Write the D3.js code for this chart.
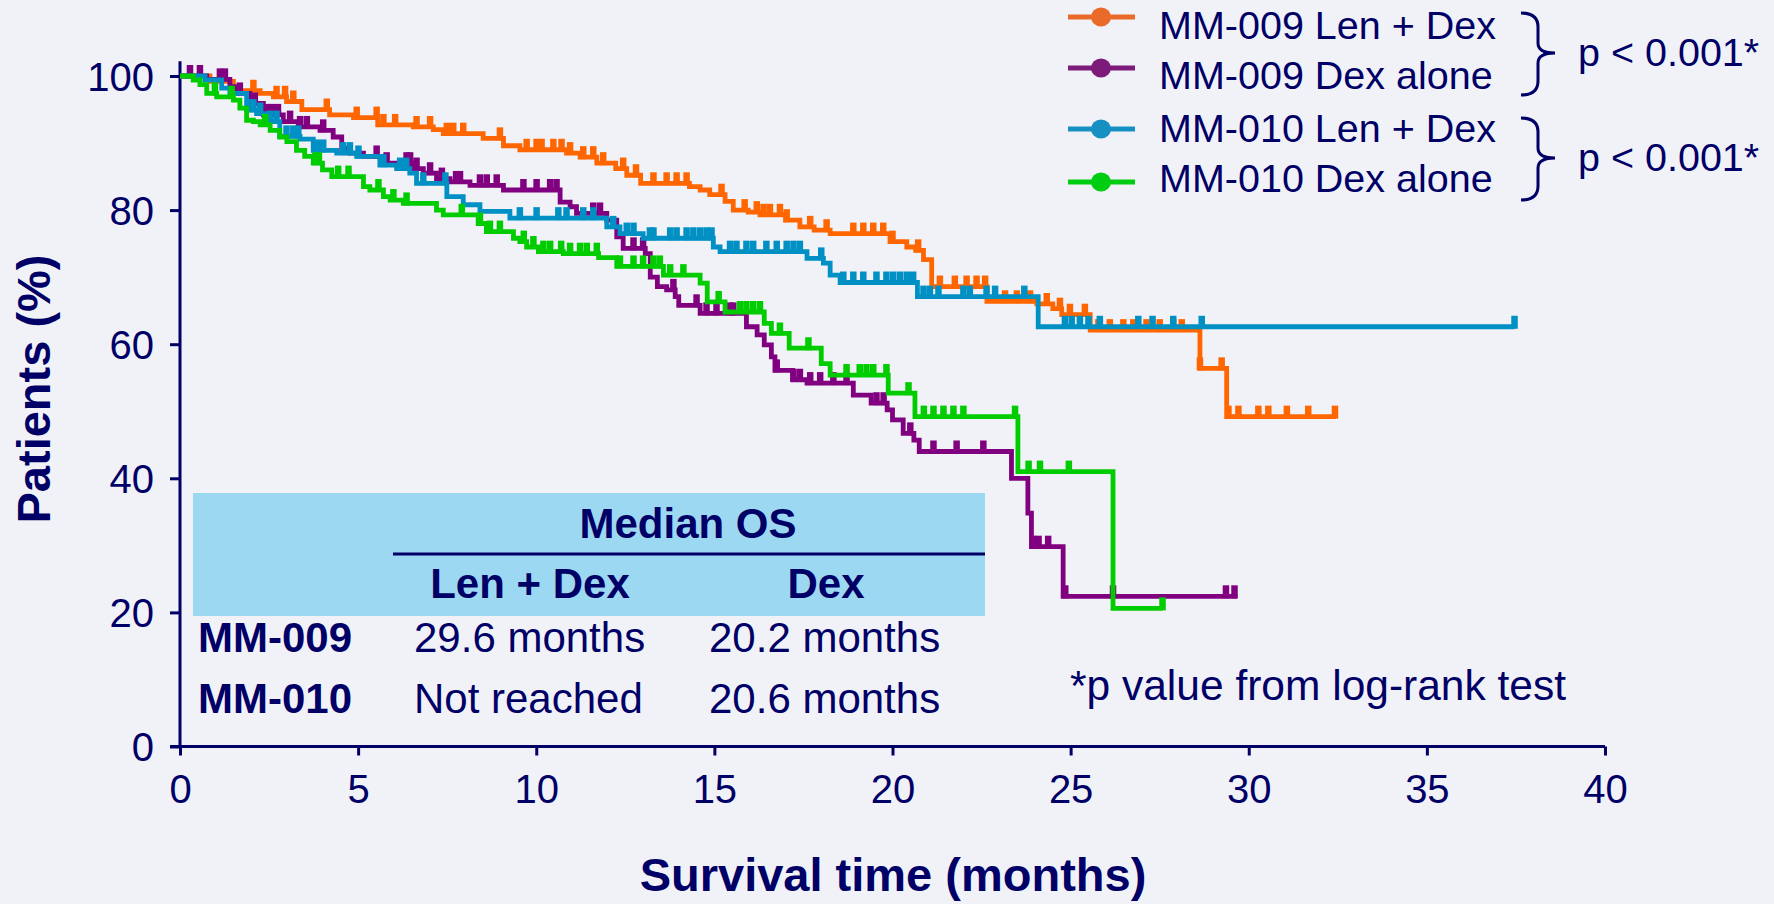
<!DOCTYPE html>
<html>
<head>
<meta charset="utf-8">
<script src="https://cdn.jsdelivr.net/npm/d3@7"></script>
<style>
  body { margin: 0; background: #f1f2f8; }
  svg { display: block; font-family: "Liberation Sans", Arial, sans-serif; }
</style>
</head>
<body>
<div id="chart"></div>
<script>
// Series labels and colours
const seriesNames = ["MM-009 Len + Dex", "MM-009 Dex alone", "MM-010 Len + Dex", "MM-010 Dex alone"];
const seriesColors = ["#ff6600", "#800080", "#0090c4", "#00cc00"];
const legendColors = ["#ea6b29", "#7d1b7b", "#168fc2", "#00cc11"];

// Kaplan-Meier steps: [months, % surviving after the step]
const mm009LenDex = [[0,100],[0.84,99.2],[1.5,97.8],[2.25,97.4],[2.62,96.9],[2.99,96.2],[3.42,95.0],[4.2,94.2],[4.87,93.8],[5.55,92.7],[6.55,92.4],[7.11,92.0],[7.39,91.4],[8.51,90.7],[9.08,89.6],[9.54,89.0],[10.85,88.5],[11.23,87.9],[11.7,87.0],[12.23,86.2],[12.54,85.2],[12.93,84.0],[14.3,83.5],[14.6,83.0],[14.87,82.3],[15.3,81.3],[15.53,80.0],[15.95,79.7],[16.28,79.3],[17.0,78.5],[17.4,77.5],[17.8,77.0],[18.25,76.5],[19.93,75.3],[20.4,74.5],[20.65,74.0],[20.87,72.6],[21.1,68.6],[22.65,66.4],[24.05,66.0],[24.5,65.3],[24.75,64.4],[25.55,62.1],[28.63,56.4],[29.38,49.2]];
const mm009LenDexEnd = 32.45;
const mm009LenDexCensored = [2.06,2.71,2.95,3.18,4.12,4.96,5.52,5.71,6.04,6.64,7.02,7.49,7.67,7.95,8.98,9.73,10.01,10.15,10.48,10.71,10.95,11.32,11.6,11.88,12.44,12.8,13.29,13.66,13.94,14.22,15.2,15.85,16.19,16.38,16.56,16.84,17.03,17.69,18.15,18.9,19.18,19.46,19.74,20.0,20.72,21.33,21.75,22.08,22.36,22.6,23.16,23.49,23.86,24.33,24.7,24.98,25.4,25.78,26.1,26.48,26.76,27.13,27.5,27.88,28.12,28.63,29.24,29.43,29.71,30.27,30.55,31.07,31.67,32.42];

const mm009Dex = [[0,100],[0.75,99.5],[1.4,98.4],[1.59,97.4],[1.96,95.9],[2.34,94.2],[2.9,93.2],[3.32,92.4],[3.93,91.9],[4.3,90.9],[4.54,89.2],[4.77,88.5],[5.15,88.0],[5.71,87.0],[6.5,86.2],[6.83,85.5],[7.2,84.7],[7.58,84.2],[8.14,83.7],[9.08,83.0],[10.67,81.2],[10.95,80.5],[11.13,79.5],[11.98,78.5],[12.26,76.0],[12.44,74.3],[13.06,73.5],[13.2,70.0],[13.4,68.6],[13.66,68.1],[13.9,67.1],[14.0,65.8],[14.6,64.6],[15.9,62.6],[16.2,61.4],[16.4,59.9],[16.6,58.1],[16.7,56.1],[17.2,54.7],[17.6,54.2],[18.9,52.4],[19.4,51.2],[19.85,50.2],[20.0,48.7],[20.3,46.7],[20.6,45.7],[20.75,44.0],[23.34,40.0],[23.8,34.8],[23.9,29.8],[24.79,22.4]];
const mm009DexEnd = 29.68;
const mm009DexCensored = [0.28,0.56,1.12,1.26,1.68,2.1,2.45,2.6,2.75,3.09,3.37,3.56,4.02,5.52,5.8,6.36,6.46,6.64,7.02,7.35,7.75,7.86,8.42,8.61,8.89,9.64,10.01,10.39,10.57,11.6,11.79,12.73,13.0,13.85,14.5,14.78,15.06,15.44,15.53,16.75,17.22,17.4,17.69,17.97,18.34,18.71,19.55,19.75,20.5,21.15,21.8,22.55,23.95,24.1,24.37,24.85,26.19,29.36,29.6];

const mm010LenDex = [[0,100],[0.7,99.4],[1.17,98.2],[1.4,97.4],[1.87,94.9],[2.15,94.4],[2.4,93.2],[2.8,91.0],[3.37,90.6],[3.74,88.9],[4.4,88.5],[4.96,88.0],[5.61,86.7],[6.08,86.2],[6.45,85.5],[6.64,84.0],[7.49,82.0],[7.95,80.8],[8.42,79.8],[9.26,78.8],[11.98,77.5],[12.35,76.5],[13.0,75.8],[14.97,74.5],[15.16,73.8],[17.6,72.8],[18.06,72.1],[18.25,70.3],[18.53,69.2],[20.7,67.1],[24.09,62.6]];
const mm010LenDexEnd = 37.46;
const mm010LenDexCensored = [1.95,2.06,2.25,2.53,2.71,2.99,3.18,3.32,3.84,4.02,4.58,4.77,5.01,5.71,6.18,6.35,6.83,7.45,9.54,10.01,10.62,10.85,11.32,11.6,12.16,12.54,12.73,13.19,13.29,13.76,13.94,14.22,14.41,14.6,14.78,14.92,15.44,15.62,15.9,16.09,16.46,16.75,17.03,17.22,17.4,18.0,18.62,18.9,19.18,19.55,19.83,20.02,20.21,20.4,20.58,20.87,21.05,21.29,21.99,22.17,22.64,22.88,23.7,24.84,25.03,25.26,25.5,25.82,26.9,27.3,27.88,28.68,37.46];

const mm010Dex = [[0,100],[0.37,99.4],[0.56,98.7],[0.75,97.4],[1.03,96.9],[1.5,96.4],[1.68,95.2],[1.87,93.4],[2.06,93.2],[2.25,92.7],[2.53,91.9],[2.8,90.9],[3.0,90.2],[3.27,88.9],[3.5,88.0],[3.74,87.0],[4.0,86.0],[4.26,85.0],[5.15,83.5],[5.33,83.0],[5.71,82.0],[5.9,81.5],[6.27,81.0],[7.2,80.0],[7.39,79.3],[8.37,78.0],[8.6,76.8],[9.36,75.8],[9.54,75.3],[9.73,74.5],[10.06,73.8],[10.76,73.5],[11.75,72.9],[12.26,71.6],[13.57,70.3],[14.6,69.1],[14.8,66.3],[15.3,64.8],[16.4,63.1],[16.6,61.6],[17.1,59.4],[18.0,57.1],[18.25,55.4],[19.88,52.7],[20.63,49.2],[23.52,41.0],[26.19,20.6]];
const mm010DexEnd = 27.58;
const mm010DexCensored = [0.98,1.45,2.39,3.8,3.9,4.44,4.73,5.57,5.99,6.36,7.91,8.42,8.7,8.98,9.65,9.92,10.2,10.39,10.7,10.95,11.23,11.42,11.7,12.35,12.73,13.0,13.29,13.47,13.76,14.13,15.12,15.72,15.9,16.09,16.28,16.84,17.64,18.71,19.08,19.27,19.46,19.83,20.45,20.88,21.15,21.43,21.71,21.99,23.44,23.82,24.14,24.95,27.58];

// Axis ticks
const xTicks = [0, 5, 10, 15, 20, 25, 30, 35, 40];
const yTicks = [0, 20, 40, 60, 80, 100];

// Median OS table
const tableRows = ["MM-009", "MM-010"];
const medianLenDex = ["29.6 months", "Not reached"];
const medianDex = ["20.2 months", "20.6 months"];

const series = [
    { name: seriesNames[0], steps: mm009LenDex, end: mm009LenDexEnd, censored: mm009LenDexCensored },
    { name: seriesNames[1], steps: mm009Dex, end: mm009DexEnd, censored: mm009DexCensored },
    { name: seriesNames[2], steps: mm010LenDex, end: mm010LenDexEnd, censored: mm010LenDexCensored },
    { name: seriesNames[3], steps: mm010Dex, end: mm010DexEnd, censored: mm010DexCensored }
];

const width = 1774;
const height = 904;
const navy = "#000066";

const svg = d3.select("#chart")
    .append("svg")
    .attr("width", width)
    .attr("height", height);

svg.append("rect").attr("width", width).attr("height", height).attr("fill", "#f1f2f8");

const x = d3.scaleLinear().domain([0, 40]).range([180, 1605]);
const y = d3.scaleLinear().domain([0, 100]).range([746.5, 76]);

// Median OS table (drawn under the curves)
const table = svg.append("g");
table.append("rect")
    .attr("x", 193).attr("y", 493).attr("width", 792).attr("height", 123)
    .attr("fill", "#9dd8f2");
table.append("line")
    .attr("x1", 393).attr("x2", 985).attr("y1", 554).attr("y2", 554)
    .attr("stroke", navy).attr("stroke-width", 3);
table.append("text").attr("x", 688).attr("y", 538).attr("text-anchor", "middle")
    .attr("font-weight", "bold").attr("font-size", 42).attr("fill", navy).text("Median OS");
table.append("text").attr("x", 530).attr("y", 598).attr("text-anchor", "middle")
    .attr("font-weight", "bold").attr("font-size", 42).attr("fill", navy).text("Len + Dex");
table.append("text").attr("x", 826).attr("y", 598).attr("text-anchor", "middle")
    .attr("font-weight", "bold").attr("font-size", 42).attr("fill", navy).text("Dex");
tableRows.forEach((r, i) => {
    const by = 652 + i * 61;
    table.append("text").attr("x", 198).attr("y", by)
        .attr("font-weight", "bold").attr("font-size", 42).attr("fill", navy).text(r);
    table.append("text").attr("x", 414).attr("y", by)
        .attr("font-size", 42).attr("fill", navy).text(medianLenDex[i]);
    table.append("text").attr("x", 709).attr("y", by)
        .attr("font-size", 42).attr("fill", navy).text(medianDex[i]);
});

// Axes
const yAxis = svg.append("g")
    .attr("transform", `translate(${x(0)},0)`)
    .call(d3.axisLeft(y).tickValues(yTicks).tickSize(10).tickPadding(16));
const xAxis = svg.append("g")
    .attr("transform", `translate(0,${y(0)})`)
    .call(d3.axisBottom(x).tickValues(xTicks).tickSize(9).tickPadding(19));

[xAxis, yAxis].forEach(g => {
    g.select(".domain").remove();
    g.selectAll(".tick line").attr("stroke", navy).attr("stroke-width", 3);
    g.selectAll(".tick text").attr("fill", navy).attr("font-size", 40)
        .attr("font-family", "'Liberation Sans', Arial, sans-serif");
});
yAxis.selectAll(".tick text").attr("dy", "0.35em");

svg.append("line")
    .attr("x1", x(0)).attr("x2", x(0)).attr("y1", y(0)).attr("y2", y(102.2))
    .attr("stroke", navy).attr("stroke-width", 3);
svg.append("line")
    .attr("x1", x(0) - 10).attr("x2", x(40)).attr("y1", y(0)).attr("y2", y(0))
    .attr("stroke", navy).attr("stroke-width", 3);

// Survival curves
const line = d3.line()
    .x(d => x(d[0]))
    .y(d => y(d[1]))
    .curve(d3.curveStepAfter);

const bisect = d3.bisector(d => d[0]).right;
const valueAt = (steps, t) => steps[Math.max(0, bisect(steps, t) - 1)][1];

series.forEach((s, i) => {
    const pts = s.steps.concat([[s.end, s.steps[s.steps.length - 1][1]]]);
    const g = svg.append("g");
    g.append("path")
        .datum(pts)
        .attr("fill", "none")
        .attr("stroke", seriesColors[i])
        .attr("stroke-width", 4.8)
        .attr("d", line);
    g.selectAll("line.censor")
        .data(s.censored)
        .enter()
        .append("line")
        .attr("class", "censor")
        .attr("x1", d => x(d)).attr("x2", d => x(d))
        .attr("y1", d => y(valueAt(s.steps, d)) + 2)
        .attr("y2", d => y(valueAt(s.steps, d)) - 11)
        .attr("stroke", seriesColors[i])
        .attr("stroke-width", 6.5);
});

// Axis titles
svg.append("text")
    .attr("transform", "translate(50,389) rotate(-90)")
    .attr("text-anchor", "middle")
    .attr("font-weight", "bold").attr("font-size", 47).attr("fill", navy)
    .text("Patients (%)");
svg.append("text")
    .attr("x", 893).attr("y", 891)
    .attr("text-anchor", "middle")
    .attr("font-weight", "bold").attr("font-size", 47).attr("fill", navy)
    .text("Survival time (months)");

// Legend
const legendLineY = [17, 68, 129, 182];
const legendTextY = [39, 89, 142, 192];
const legend = svg.append("g");
seriesNames.forEach((name, i) => {
    legend.append("line")
        .attr("x1", 1068).attr("x2", 1135).attr("y1", legendLineY[i]).attr("y2", legendLineY[i])
        .attr("stroke", legendColors[i]).attr("stroke-width", 5);
    legend.append("ellipse")
        .attr("cx", 1101).attr("cy", legendLineY[i]).attr("rx", 10).attr("ry", 9.5)
        .attr("fill", legendColors[i]);
    legend.append("text")
        .attr("x", 1159).attr("y", legendTextY[i])
        .attr("font-size", 39.5).attr("fill", navy)
        .text(name);
});

// Braces and p values
const braceTops = [13, 118];
braceTops.forEach(t => {
    const m = t + 40, b = t + 82;
    legend.append("path")
        .attr("d", `M1521,${t} Q1538,${t} 1538,${t + 14} L1538,${m - 10} Q1538,${m} 1555,${m} Q1538,${m} 1538,${m + 10} L1538,${b - 14} Q1538,${b} 1521,${b}`)
        .attr("fill", "none").attr("stroke", navy).attr("stroke-width", 3);
    legend.append("text")
        .attr("x", 1578).attr("y", m + 13)
        .attr("font-size", 39.5).attr("fill", navy)
        .text("p < 0.001*");
});

svg.append("text")
    .attr("x", 1070).attr("y", 700)
    .attr("font-size", 42.5).attr("fill", navy)
    .text("*p value from log-rank test");
</script>
</body>
</html>
